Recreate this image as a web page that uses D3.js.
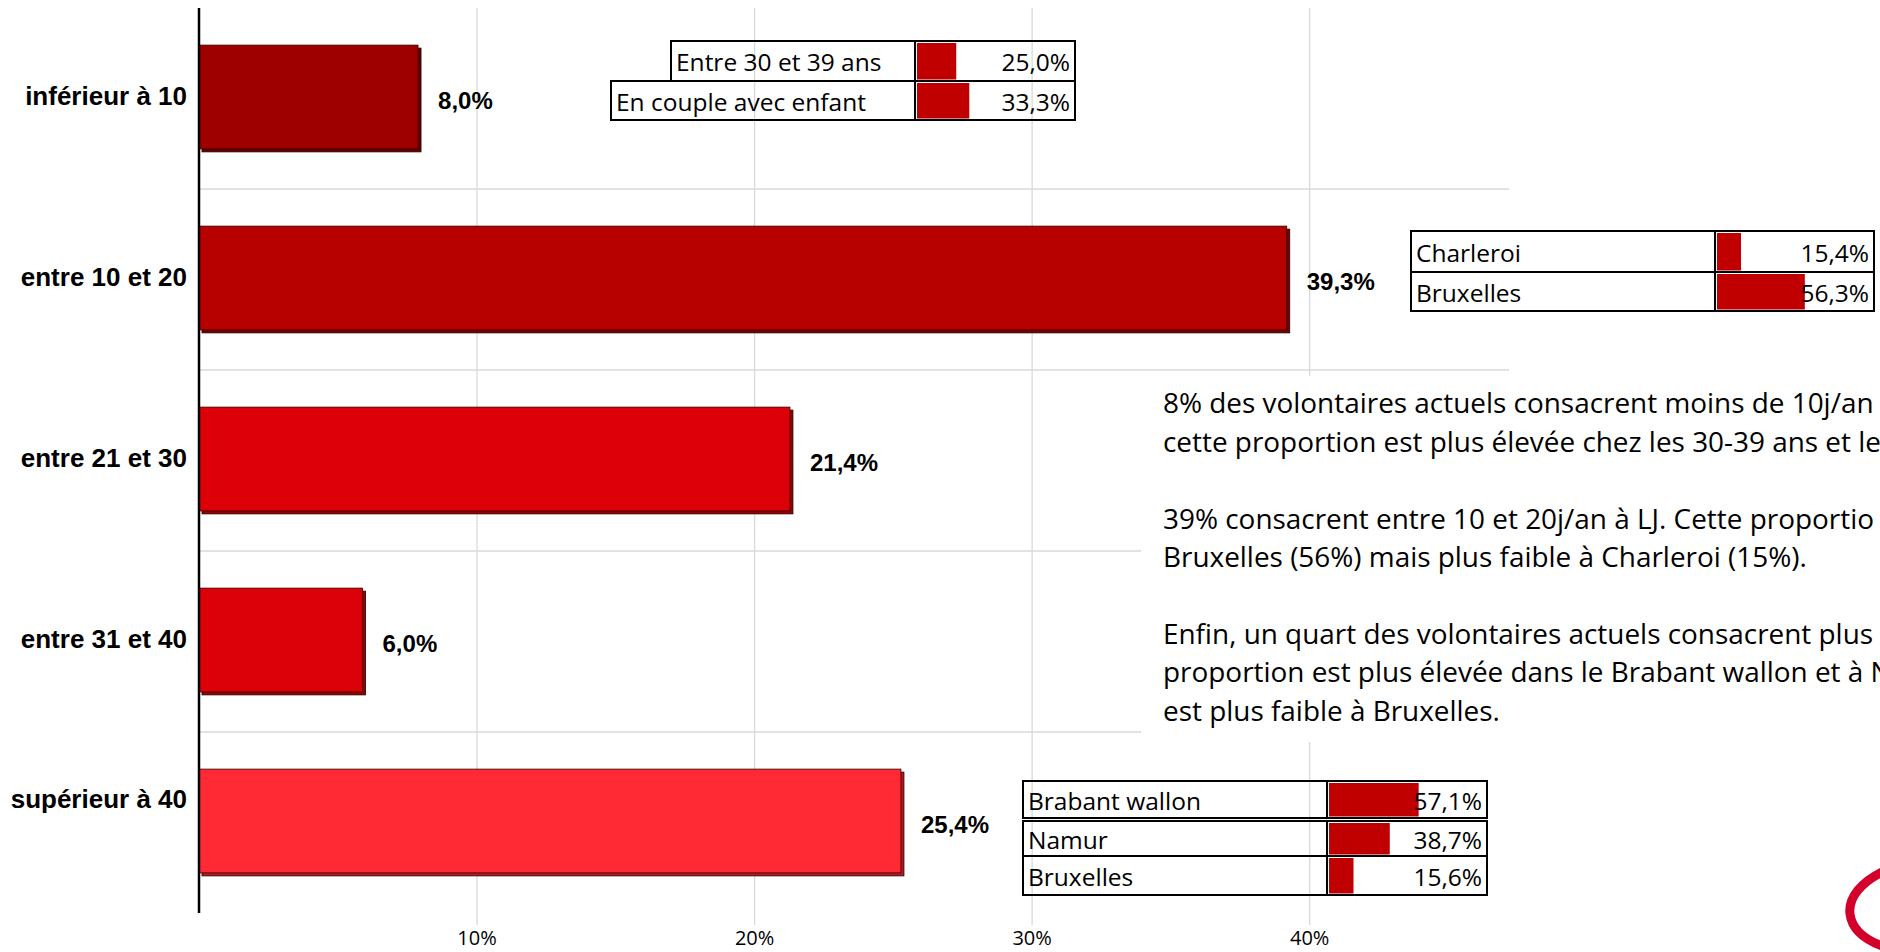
<!DOCTYPE html>
<html>
<head>
<meta charset="utf-8">
<script src="https://cdn.jsdelivr.net/npm/d3@7"></script>
<style>
  html, body { margin: 0; padding: 0; background: #ffffff; }
  svg { display: block; }
</style>
</head>
<body>
<script>
// ---------- data ----------
const categories = ["inférieur à 10", "entre 10 et 20", "entre 21 et 30", "entre 31 et 40", "supérieur à 40"];
const values = [8.0, 39.3, 21.4, 6.0, 25.4];
const tickValues = [10, 20, 30, 40];

const table1Labels = ["Entre 30 et 39 ans", "En couple avec enfant"];
const table1Values = [25.0, 33.3];
const table2Labels = ["Charleroi", "Bruxelles"];
const table2Values = [15.4, 56.3];
const table3Labels = ["Brabant wallon", "Namur", "Bruxelles"];
const table3Values = [57.1, 38.7, 15.6];

const commentLines = [
  "8% des volontaires actuels consacrent moins de 10j/an",
  "cette proportion est plus élevée chez les 30-39 ans et le",
  "",
  "39% consacrent entre 10 et 20j/an à LJ. Cette proportio",
  "Bruxelles (56%) mais plus faible à Charleroi (15%).",
  "",
  "Enfin, un quart des volontaires actuels consacrent plus d",
  "proportion est plus élevée dans le Brabant wallon et à N",
  "est plus faible à Bruxelles."
];

// ---------- styles / layout ----------
const barFill   = ["#9e0000", "#b70000", "#de0008", "#dc0008", "#ff2a33"];
const barShadow = ["#660000", "#760000", "#980000", "#980000", "#b01e24"];
const tableBarColor = "#c00000";
const catLabelShift = [0, 0, 0, 0, -21];

const fr = d3.formatLocale({decimal: ",", thousands: " ", grouping: [3], currency: ["", "€"]});
const fmtPct = v => fr.format(".1f")(v) + "%";
const fmtTick = v => v + "%";

const W = 1880, H = 952;
const svg = d3.select("body").append("svg").attr("width", W).attr("height", H);

// ---------- scales ----------
const x = d3.scaleLinear().domain([0, 47.2]).range([199, 1509]);
const y = d3.scaleBand().domain(categories).range([8, 913]).paddingInner(0.41).paddingOuter(0.205);
const step = y.step();

// ---------- grid ----------
const gridG = svg.append("g");
const axisG = gridG.append("g").attr("transform", "translate(0,925)")
  .call(d3.axisBottom(x).tickValues(tickValues).tickFormat(fmtTick).tickSize(-(925 - 8)).tickPadding(0));
axisG.select(".domain").remove();
axisG.selectAll(".tick line").attr("stroke", "#d9d9d9").attr("stroke-width", 1.3);
axisG.selectAll(".tick text")
  .attr("y", 20).attr("dy", 0)
  .attr("fill", "#000")
  .style("font-family", "'Open Sans', sans-serif")
  .style("font-size", "20px");

const boundaries = d3.range(1, categories.length).map(i => y.range()[0] + i * step);
gridG.selectAll(".hgrid").data(boundaries).enter().append("line")
  .attr("x1", x(0)).attr("x2", x.range()[1])
  .attr("y1", d => d).attr("y2", d => d)
  .attr("stroke", "#d9d9d9").attr("stroke-width", 1.3);

// white area behind the commentary text
svg.append("rect").attr("x", 1141).attr("y", 376).attr("width", W - 1141).attr("height", 366).attr("fill", "#fff");

// ---------- bars ----------
const off = 3;
const barsG = svg.append("g");
categories.forEach((c, i) => {
  const v = values[i];
  const w = x(v) - x(0) - off;
  barsG.append("rect")
    .attr("x", x(0) + off).attr("y", y(c) + off)
    .attr("width", w).attr("height", y.bandwidth() - off)
    .attr("fill", barShadow[i]).attr("stroke", "#220000").attr("stroke-width", 0.8);
  barsG.append("rect")
    .attr("x", x(0)).attr("y", y(c))
    .attr("width", w).attr("height", y.bandwidth() - off)
    .attr("fill", barFill[i]).attr("stroke", "#330000").attr("stroke-width", 0.8);
  barsG.append("text")
    .attr("x", x(v) + 17).attr("y", y(c) + y.bandwidth() / 2 + 10)
    .text(fmtPct(v))
    .style("font-family", "'Liberation Sans', Arial, sans-serif")
    .style("font-weight", "bold").style("font-size", "24px").attr("fill", "#000");
  svg.append("text")
    .attr("x", 187).attr("y", y(c) + y.bandwidth() / 2 + 6 + catLabelShift[i])
    .attr("text-anchor", "end")
    .text(c)
    .style("font-family", "'Liberation Sans', Arial, sans-serif")
    .style("font-weight", "bold").style("font-size", "26px").attr("fill", "#000");
});

// vertical axis line
svg.append("line").attr("x1", x(0)).attr("x2", x(0)).attr("y1", 8).attr("y2", 913)
  .attr("stroke", "#000").attr("stroke-width", 2.5);

// ---------- small tables ----------
function drawTable(labels, vals, rows, divider, right) {
  const g = svg.append("g");
  const s = d3.scaleLinear().domain([0, 100]).range([0, right - divider - 3]);
  labels.forEach((lab, i) => {
    const r = rows[i];
    g.append("rect").attr("x", divider + 2).attr("y", r.y0 + 2)
      .attr("width", s(vals[i])).attr("height", r.y1 - r.y0 - 3.5)
      .attr("fill", tableBarColor);
    g.append("rect").attr("x", r.x0).attr("y", r.y0)
      .attr("width", right - r.x0).attr("height", r.y1 - r.y0)
      .attr("fill", "none").attr("stroke", "#000").attr("stroke-width", 2);
    g.append("line").attr("x1", divider).attr("x2", divider).attr("y1", r.y0).attr("y2", r.y1)
      .attr("stroke", "#000").attr("stroke-width", 2);
    const cy = (r.y0 + r.y1) / 2 + 10;
    g.append("text").attr("x", r.x0 + 5).attr("y", cy).text(lab)
      .style("font-family", "'Open Sans', sans-serif").style("font-size", "24.5px").attr("fill", "#000");
    g.append("text").attr("x", right - 5).attr("y", cy).attr("text-anchor", "end").text(fmtPct(vals[i]))
      .style("font-family", "'Open Sans', sans-serif").style("font-size", "24.5px").attr("fill", "#000");
  });
}
drawTable(table1Labels, table1Values,
  [{x0: 671, y0: 41, y1: 81}, {x0: 611, y0: 81, y1: 120}], 915, 1075);
drawTable(table2Labels, table2Values,
  [{x0: 1411, y0: 231, y1: 272}, {x0: 1411, y0: 272, y1: 311}], 1715, 1874);
drawTable(table3Labels, table3Values,
  [{x0: 1023, y0: 781, y1: 818}, {x0: 1023, y0: 821, y1: 856}, {x0: 1023, y0: 856, y1: 895}], 1327, 1487);

// ---------- commentary text ----------
const txtFont = "'Open Sans', sans-serif";
const probe = svg.append("text").style("font-family", txtFont).style("font-size", "100px").text(commentLines[4]);
const pw = probe.node().getComputedTextLength();
probe.remove();
const fs = 100 * 644 / pw;
const tG = svg.append("g");
commentLines.forEach((line, i) => {
  if (!line) return;
  tG.append("text").attr("x", 1163).attr("y", 404 + i * 38.4 + 0.34 * fs)
    .text(line)
    .style("font-family", txtFont).style("font-size", fs + "px").attr("fill", "#000");
});

// ---------- logo fragment ----------
svg.append("path")
  .attr("d", "M1882,872 C1862,882 1848,897 1850,914 C1852,930 1866,940 1882,946")
  .attr("fill", "none").attr("stroke", "#d2002a").attr("stroke-width", 9).attr("stroke-linecap", "round");
</script>
</body>
</html>
